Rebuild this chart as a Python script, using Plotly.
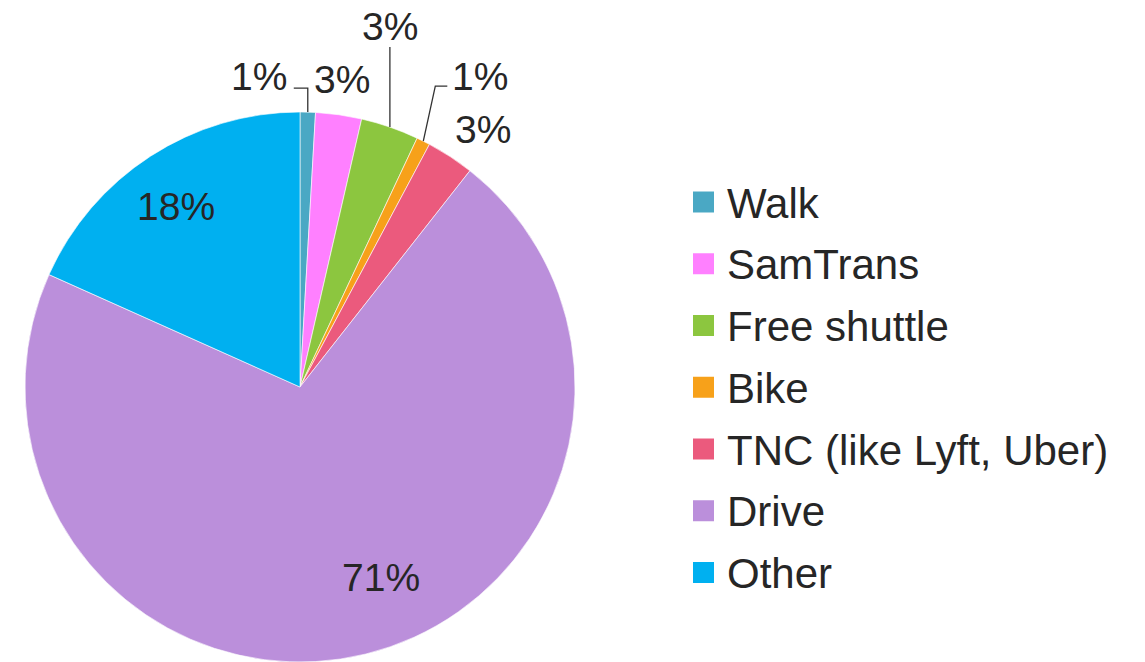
import numpy as np
import plotly.graph_objects as go

# ---- data ----
modes = ["Walk", "SamTrans", "Free shuttle", "Bike", "TNC (like Lyft, Uber)", "Drive", "Other"]
shares = [0.9, 2.7, 3.4, 0.8, 2.8, 71.1, 18.3]
pct_labels = ["1%", "3%", "3%", "1%", "3%", "71%", "18%"]

# ---- style ----
colors = ["#4AA8C4", "#FF80FF", "#8CC63F", "#F7A11A", "#EB5A7D", "#BB8FDB", "#00B0F0"]
W, H = 1145, 662
cx, cy, R = 300, 387, 275          # pie centre / radius in px
FONT = "Arial, Liberation Sans, sans-serif"
TXT = "#262626"
FS = 39
FS_LEG = 42

# label placement (radius px, angle shift deg from slice middle)
lab_r = [313, 310, 372, 359, 316, 207, 219]
lab_shift = [-9.1, -0.3, -5.1, 3.5, 2.2, -9.1, -1.5]
# leader line knees relative to slice edge point (px); None = no line
leaders = [[(0, -24), (-14, -24)], None, [(0, -80)], [(12, -55), (24, -55)], None, None, None]


def px(x, y):
    return x / W, 1 - y / H


fig = go.Figure()
fig.add_trace(go.Pie(
    labels=modes, values=shares, sort=False, direction="clockwise", rotation=0,
    marker=dict(colors=colors, line=dict(color="rgba(255,255,255,0.6)", width=1)),
    textinfo="none", showlegend=False,
    domain=dict(x=[(cx - R) / W, (cx + R) / W], y=[max(0, 1 - (cy + R) / H), 1 - (cy - R) / H]),
))

vals = np.array(shares, dtype=float)
frac = vals / vals.sum()
cum = np.cumsum(frac) - frac / 2
mid_deg = cum * 360.0

annotations = []
shapes = []
for i, m in enumerate(mid_deg):
    th = np.radians(m + lab_shift[i])
    tx = cx + lab_r[i] * np.sin(th)
    ty = cy - lab_r[i] * np.cos(th)
    x0, y0 = px(tx, ty)
    annotations.append(dict(x=x0, y=y0, xref="paper", yref="paper", text=pct_labels[i],
                            showarrow=False, xanchor="center", yanchor="middle",
                            font=dict(family=FONT, size=FS, color=TXT)))
    if leaders[i]:
        t0 = np.radians(m)
        ex, ey = cx + R * np.sin(t0), cy - R * np.cos(t0)
        pts = [(ex, ey)] + [(ex + dx, ey + dy) for dx, dy in leaders[i]]
        path = "M " + " L ".join(f"{px(a, b)[0]:.5f},{px(a, b)[1]:.5f}" for a, b in pts)
        shapes.append(dict(type="path", xref="paper", yref="paper", path=path,
                           line=dict(color="#333333", width=1.3)))

# manual legend
leg_x, leg_y0, leg_dy, sq = 693, 202, 61.75, 21
for i, name in enumerate(modes):
    yc = leg_y0 + i * leg_dy
    xa, ya = px(leg_x, yc - sq / 2)
    xb, yb = px(leg_x + sq, yc + sq / 2)
    shapes.append(dict(type="rect", xref="paper", yref="paper", x0=xa, x1=xb, y0=yb, y1=ya,
                       fillcolor=colors[i], line=dict(width=0)))
    lx, ly = px(leg_x + 32, yc + 1)
    annotations.append(dict(x=lx, y=ly, xref="paper", yref="paper", text=name, showarrow=False,
                            xanchor="left", yanchor="middle",
                            font=dict(family=FONT, size=FS_LEG, color=TXT)))

fig.update_layout(
    width=W, height=H, margin=dict(l=0, r=0, t=0, b=0),
    paper_bgcolor="white", plot_bgcolor="white",
    annotations=annotations, shapes=shapes,
)
fig.write_html("out.html", config={"displayModeBar": False},
               post_script="document.body.style.margin='0';document.body.style.overflow='hidden';")
